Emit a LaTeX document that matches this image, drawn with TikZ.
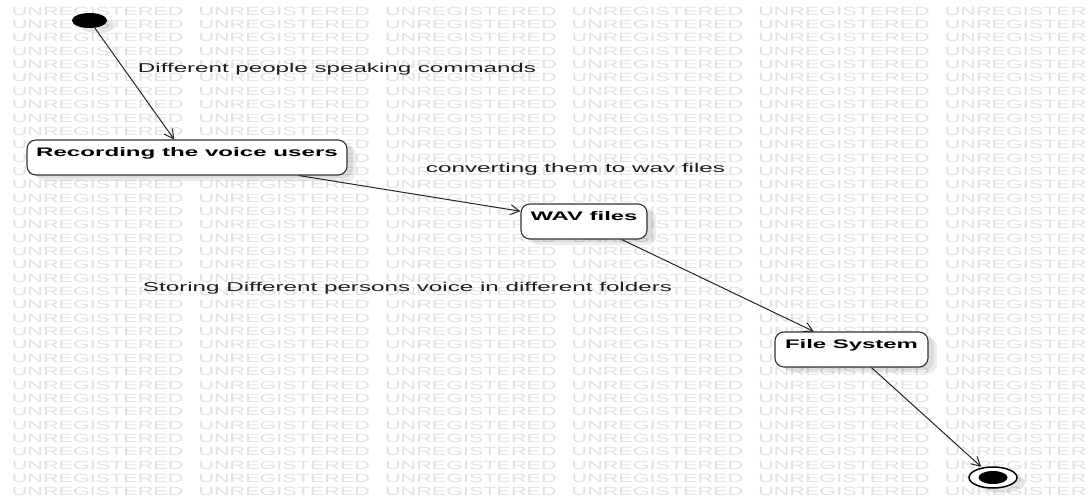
\documentclass[tikz,border=0pt]{standalone}
\usepackage{fontspec}
\setmainfont{Liberation Sans}
\usepackage{graphicx}
\usetikzlibrary{shapes.geometric,arrows.meta,shadows}
\definecolor{wmgray}{RGB}{226,226,226}
\definecolor{ink}{RGB}{30,30,30}
\newsavebox\wmbox
\newcommand\fitt[3]{\resizebox{#1pt}{#2pt}{#3}}
\tikzset{
  wm/.style={inner sep=0pt, anchor=base west},
  lbl/.style={inner sep=0pt, anchor=base, text=ink},
  statebox/.style={draw=black!80, line width=1.1pt, rounded corners=9pt, fill=white,
    inner xsep=0pt, inner ysep=0pt, text height=16pt, text depth=19pt, text=black,
    drop shadow={shadow xshift=9pt, shadow yshift=-6pt, opacity=.07, fill=black},
    drop shadow={shadow xshift=6pt, shadow yshift=-3pt, opacity=.07, fill=black}},
  arr/.style={draw=black!85, line width=1pt, -{Straight Barb[length=9pt,width=10pt]}},
}
\begin{document}
\sbox\wmbox{\color{wmgray}\resizebox{171.5pt}{8.3pt}{UNREGISTERED}}%
\begin{tikzpicture}[x=1pt,y=-1pt]
\useasboundingbox (0,0) rectangle (1086,495);
\fill[white] (0,0) rectangle (1086,495);
\begin{scope}
\clip (0,0) rectangle (1086,495);
\foreach \r in {0,...,36}{
  \foreach \c in {0,...,5}{
    \node[wm] (wm-\r-\c) at ({11.7+186.6*\c},{15.2+13.35*\r}) {\usebox\wmbox};
  }
}
\end{scope}

% start / end
\node[ellipse, fill=black, inner sep=0pt, minimum width=35pt, minimum height=15pt,
  drop shadow={shadow xshift=8pt, shadow yshift=-5pt, opacity=.1, fill=black}]
  (start) at (89.5,20.5) {};
\node[ellipse, draw=black, line width=1.5pt, fill=white, inner sep=0pt,
  minimum width=48pt, minimum height=21pt,
  drop shadow={shadow xshift=8pt, shadow yshift=-5pt, opacity=.1, fill=black}]
  (endo) at (993,477.5) {};
\node[ellipse, fill=black, inner sep=0pt, minimum width=29pt, minimum height=13pt]
  (endi) at (993,477.5) {};

% states
\node[statebox, minimum width=320pt] (recA) at (187,157.5)
  {\fitt{301.7}{9}{\bfseries Recording the voice users}};
\node[statebox, minimum width=126pt] (wav) at (584,221.5)
  {\fitt{107}{9}{\bfseries WAV files}};
\node[statebox, minimum width=153pt] (fs) at (851.5,349.5)
  {\fitt{133}{9}{\bfseries File System}};

% labels
\node[lbl] (l1) at (337,73) {\fitt{398}{9.3}{Different people speaking commands}};
\node[lbl] (l2) at (575.5,172) {\fitt{299}{9.3}{converting them to wav files}};
\node[lbl] (l3) at (407.5,291) {\fitt{529}{9.3}{Storing Different persons voice in different folders}};

% transitions
\draw[arr] (start) -- (recA);
\draw[arr] (recA) -- (wav);
\draw[arr] (wav) -- (fs);
\draw[arr, shorten >=1pt] (fs) -- (endo);
\end{tikzpicture}
\end{document}
